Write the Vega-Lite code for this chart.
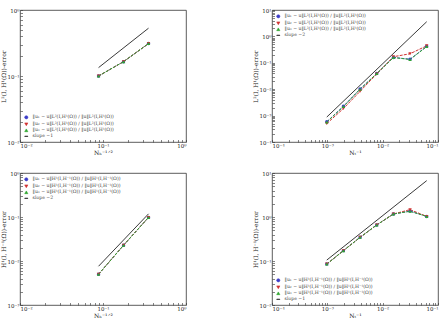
{
  "$schema": "https://vega.github.io/schema/vega-lite/v6.json",
  "padding": {"left": 0, "top": 7, "right": 0, "bottom": 0},
  "background": "white",
  "config": {
    "view": {"stroke": "#333", "strokeWidth": 0.8},
    "axis": {
      "labelFont": "DejaVu Serif", "labelFontSize": 5.5, "labelColor": "#222",
      "titleFont": "DejaVu Serif", "titleFontSize": 6, "titleFontWeight": "normal", "titleColor": "#222",
      "grid": false, "domain": false, "tickColor": "#333", "tickSize": -2.5, "tickWidth": 0.6,
      "labelPadding": 3.5, "titlePadding": 0.5
    },
    "axisY": {"minExtent": 13, "maxExtent": 13},
    "legend": {
      "labelFont": "DejaVu Serif", "labelFontSize": 4.6, "labelColor": "#444",
      "symbolSize": 10, "rowPadding": 0, "padding": 1, "offset": 3, "symbolStrokeWidth": 0.6,
      "labelLimit": 200, "titlePadding": 0
    }
  },
  "datasets": {
    "tl": [
      {"series": "‖u₁ − u‖L²(I,H¹(Ω)) / ‖u‖L²(I,H¹(Ω))", "k": "u1", "x": 0.0884, "y": 0.1},
      {"series": "‖u₁ − u‖L²(I,H¹(Ω)) / ‖u‖L²(I,H¹(Ω))", "k": "u1", "x": 0.1768, "y": 0.165},
      {"series": "‖u₁ − u‖L²(I,H¹(Ω)) / ‖u‖L²(I,H¹(Ω))", "k": "u1", "x": 0.3536, "y": 0.31},
      {"series": "‖u₂ − u‖L²(I,H¹(Ω)) / ‖u‖L²(I,H¹(Ω))", "k": "u2", "x": 0.0884, "y": 0.1},
      {"series": "‖u₂ − u‖L²(I,H¹(Ω)) / ‖u‖L²(I,H¹(Ω))", "k": "u2", "x": 0.1768, "y": 0.165},
      {"series": "‖u₂ − u‖L²(I,H¹(Ω)) / ‖u‖L²(I,H¹(Ω))", "k": "u2", "x": 0.3536, "y": 0.31},
      {"series": "‖u₃ − u‖L²(I,H¹(Ω)) / ‖u‖L²(I,H¹(Ω))", "k": "u3", "x": 0.0884, "y": 0.1},
      {"series": "‖u₃ − u‖L²(I,H¹(Ω)) / ‖u‖L²(I,H¹(Ω))", "k": "u3", "x": 0.1768, "y": 0.165},
      {"series": "‖u₃ − u‖L²(I,H¹(Ω)) / ‖u‖L²(I,H¹(Ω))", "k": "u3", "x": 0.3536, "y": 0.31},
      {"series": "slope −1", "k": "slope", "x": 0.0884, "y": 0.134},
      {"series": "slope −1", "k": "slope", "x": 0.3536, "y": 0.53}
    ],
    "tr": [
      {"series": "‖u₁ − u‖L²(I,H¹(Ω)) / ‖u‖L²(I,H¹(Ω))", "k": "u1", "x": 0.000977, "y": 0.00058},
      {"series": "‖u₁ − u‖L²(I,H¹(Ω)) / ‖u‖L²(I,H¹(Ω))", "k": "u1", "x": 0.001953, "y": 0.00225},
      {"series": "‖u₁ − u‖L²(I,H¹(Ω)) / ‖u‖L²(I,H¹(Ω))", "k": "u1", "x": 0.003906, "y": 0.0101},
      {"series": "‖u₁ − u‖L²(I,H¹(Ω)) / ‖u‖L²(I,H¹(Ω))", "k": "u1", "x": 0.007813, "y": 0.039},
      {"series": "‖u₁ − u‖L²(I,H¹(Ω)) / ‖u‖L²(I,H¹(Ω))", "k": "u1", "x": 0.015625, "y": 0.16},
      {"series": "‖u₁ − u‖L²(I,H¹(Ω)) / ‖u‖L²(I,H¹(Ω))", "k": "u1", "x": 0.03125, "y": 0.136},
      {"series": "‖u₁ − u‖L²(I,H¹(Ω)) / ‖u‖L²(I,H¹(Ω))", "k": "u1", "x": 0.0625, "y": 0.42},
      {"series": "‖u₂ − u‖L²(I,H¹(Ω)) / ‖u‖L²(I,H¹(Ω))", "k": "u2", "x": 0.000977, "y": 0.0005},
      {"series": "‖u₂ − u‖L²(I,H¹(Ω)) / ‖u‖L²(I,H¹(Ω))", "k": "u2", "x": 0.001953, "y": 0.00185},
      {"series": "‖u₂ − u‖L²(I,H¹(Ω)) / ‖u‖L²(I,H¹(Ω))", "k": "u2", "x": 0.003906, "y": 0.0083},
      {"series": "‖u₂ − u‖L²(I,H¹(Ω)) / ‖u‖L²(I,H¹(Ω))", "k": "u2", "x": 0.007813, "y": 0.038},
      {"series": "‖u₂ − u‖L²(I,H¹(Ω)) / ‖u‖L²(I,H¹(Ω))", "k": "u2", "x": 0.015625, "y": 0.17},
      {"series": "‖u₂ − u‖L²(I,H¹(Ω)) / ‖u‖L²(I,H¹(Ω))", "k": "u2", "x": 0.03125, "y": 0.22},
      {"series": "‖u₂ − u‖L²(I,H¹(Ω)) / ‖u‖L²(I,H¹(Ω))", "k": "u2", "x": 0.0625, "y": 0.44},
      {"series": "‖u₃ − u‖L²(I,H¹(Ω)) / ‖u‖L²(I,H¹(Ω))", "k": "u3", "x": 0.000977, "y": 0.00057},
      {"series": "‖u₃ − u‖L²(I,H¹(Ω)) / ‖u‖L²(I,H¹(Ω))", "k": "u3", "x": 0.001953, "y": 0.0022},
      {"series": "‖u₃ − u‖L²(I,H¹(Ω)) / ‖u‖L²(I,H¹(Ω))", "k": "u3", "x": 0.003906, "y": 0.01},
      {"series": "‖u₃ − u‖L²(I,H¹(Ω)) / ‖u‖L²(I,H¹(Ω))", "k": "u3", "x": 0.007813, "y": 0.039},
      {"series": "‖u₃ − u‖L²(I,H¹(Ω)) / ‖u‖L²(I,H¹(Ω))", "k": "u3", "x": 0.015625, "y": 0.158},
      {"series": "‖u₃ − u‖L²(I,H¹(Ω)) / ‖u‖L²(I,H¹(Ω))", "k": "u3", "x": 0.03125, "y": 0.134},
      {"series": "‖u₃ − u‖L²(I,H¹(Ω)) / ‖u‖L²(I,H¹(Ω))", "k": "u3", "x": 0.0625, "y": 0.41},
      {"series": "slope −2", "k": "slope", "x": 0.000977, "y": 0.00088},
      {"series": "slope −2", "k": "slope", "x": 0.0625, "y": 3.6}
    ],
    "bl": [
      {"series": "‖u₁ − u‖H¹(I,H⁻¹(Ω)) / ‖u‖H¹(I,H⁻¹(Ω))", "k": "u1", "x": 0.0884, "y": 0.005},
      {"series": "‖u₁ − u‖H¹(I,H⁻¹(Ω)) / ‖u‖H¹(I,H⁻¹(Ω))", "k": "u1", "x": 0.1768, "y": 0.0228},
      {"series": "‖u₁ − u‖H¹(I,H⁻¹(Ω)) / ‖u‖H¹(I,H⁻¹(Ω))", "k": "u1", "x": 0.3536, "y": 0.098},
      {"series": "‖u₂ − u‖H¹(I,H⁻¹(Ω)) / ‖u‖H¹(I,H⁻¹(Ω))", "k": "u2", "x": 0.0884, "y": 0.005},
      {"series": "‖u₂ − u‖H¹(I,H⁻¹(Ω)) / ‖u‖H¹(I,H⁻¹(Ω))", "k": "u2", "x": 0.1768, "y": 0.0228},
      {"series": "‖u₂ − u‖H¹(I,H⁻¹(Ω)) / ‖u‖H¹(I,H⁻¹(Ω))", "k": "u2", "x": 0.3536, "y": 0.098},
      {"series": "‖u₃ − u‖H¹(I,H⁻¹(Ω)) / ‖u‖H¹(I,H⁻¹(Ω))", "k": "u3", "x": 0.0884, "y": 0.005},
      {"series": "‖u₃ − u‖H¹(I,H⁻¹(Ω)) / ‖u‖H¹(I,H⁻¹(Ω))", "k": "u3", "x": 0.1768, "y": 0.0228},
      {"series": "‖u₃ − u‖H¹(I,H⁻¹(Ω)) / ‖u‖H¹(I,H⁻¹(Ω))", "k": "u3", "x": 0.3536, "y": 0.098},
      {"series": "slope −2", "k": "slope", "x": 0.0884, "y": 0.0076},
      {"series": "slope −2", "k": "slope", "x": 0.3536, "y": 0.118}
    ],
    "br": [
      {"series": "‖u₁ − u‖H¹(I,H⁻¹(Ω)) / ‖u‖H¹(I,H⁻¹(Ω))", "k": "u1", "x": 0.000977, "y": 0.085},
      {"series": "‖u₁ − u‖H¹(I,H⁻¹(Ω)) / ‖u‖H¹(I,H⁻¹(Ω))", "k": "u1", "x": 0.001953, "y": 0.172},
      {"series": "‖u₁ − u‖H¹(I,H⁻¹(Ω)) / ‖u‖H¹(I,H⁻¹(Ω))", "k": "u1", "x": 0.003906, "y": 0.345},
      {"series": "‖u₁ − u‖H¹(I,H⁻¹(Ω)) / ‖u‖H¹(I,H⁻¹(Ω))", "k": "u1", "x": 0.007813, "y": 0.66},
      {"series": "‖u₁ − u‖H¹(I,H⁻¹(Ω)) / ‖u‖H¹(I,H⁻¹(Ω))", "k": "u1", "x": 0.015625, "y": 1.17},
      {"series": "‖u₁ − u‖H¹(I,H⁻¹(Ω)) / ‖u‖H¹(I,H⁻¹(Ω))", "k": "u1", "x": 0.03125, "y": 1.36},
      {"series": "‖u₁ − u‖H¹(I,H⁻¹(Ω)) / ‖u‖H¹(I,H⁻¹(Ω))", "k": "u1", "x": 0.0625, "y": 1.03},
      {"series": "‖u₂ − u‖H¹(I,H⁻¹(Ω)) / ‖u‖H¹(I,H⁻¹(Ω))", "k": "u2", "x": 0.000977, "y": 0.085},
      {"series": "‖u₂ − u‖H¹(I,H⁻¹(Ω)) / ‖u‖H¹(I,H⁻¹(Ω))", "k": "u2", "x": 0.001953, "y": 0.172},
      {"series": "‖u₂ − u‖H¹(I,H⁻¹(Ω)) / ‖u‖H¹(I,H⁻¹(Ω))", "k": "u2", "x": 0.003906, "y": 0.345},
      {"series": "‖u₂ − u‖H¹(I,H⁻¹(Ω)) / ‖u‖H¹(I,H⁻¹(Ω))", "k": "u2", "x": 0.007813, "y": 0.66},
      {"series": "‖u₂ − u‖H¹(I,H⁻¹(Ω)) / ‖u‖H¹(I,H⁻¹(Ω))", "k": "u2", "x": 0.015625, "y": 1.17},
      {"series": "‖u₂ − u‖H¹(I,H⁻¹(Ω)) / ‖u‖H¹(I,H⁻¹(Ω))", "k": "u2", "x": 0.03125, "y": 1.47},
      {"series": "‖u₂ − u‖H¹(I,H⁻¹(Ω)) / ‖u‖H¹(I,H⁻¹(Ω))", "k": "u2", "x": 0.0625, "y": 1.03},
      {"series": "‖u₃ − u‖H¹(I,H⁻¹(Ω)) / ‖u‖H¹(I,H⁻¹(Ω))", "k": "u3", "x": 0.000977, "y": 0.085},
      {"series": "‖u₃ − u‖H¹(I,H⁻¹(Ω)) / ‖u‖H¹(I,H⁻¹(Ω))", "k": "u3", "x": 0.001953, "y": 0.172},
      {"series": "‖u₃ − u‖H¹(I,H⁻¹(Ω)) / ‖u‖H¹(I,H⁻¹(Ω))", "k": "u3", "x": 0.003906, "y": 0.345},
      {"series": "‖u₃ − u‖H¹(I,H⁻¹(Ω)) / ‖u‖H¹(I,H⁻¹(Ω))", "k": "u3", "x": 0.007813, "y": 0.66},
      {"series": "‖u₃ − u‖H¹(I,H⁻¹(Ω)) / ‖u‖H¹(I,H⁻¹(Ω))", "k": "u3", "x": 0.015625, "y": 1.17},
      {"series": "‖u₃ − u‖H¹(I,H⁻¹(Ω)) / ‖u‖H¹(I,H⁻¹(Ω))", "k": "u3", "x": 0.03125, "y": 1.35},
      {"series": "‖u₃ − u‖H¹(I,H⁻¹(Ω)) / ‖u‖H¹(I,H⁻¹(Ω))", "k": "u3", "x": 0.0625, "y": 1.03},
      {"series": "slope −1", "k": "slope", "x": 0.000977, "y": 0.105},
      {"series": "slope −1", "k": "slope", "x": 0.0625, "y": 6.7}
    ]
  },
  "spacing": 14,
  "resolve": {"scale": {"x": "independent", "y": "independent", "color": "independent", "shape": "independent"}, "legend": {"color": "independent", "shape": "independent"}},
  "vconcat": [
    {
      "spacing": 65,
      "resolve": {"scale": {"x": "independent", "y": "independent", "color": "independent", "shape": "independent"}, "legend": {"color": "independent", "shape": "independent"}},
      "hconcat": [
        {
          "width": 166, "height": 132,
          "data": {"name": "tl"},
          "encoding": {
            "x": {"field": "x", "type": "quantitative", "scale": {"type": "log", "domain": [0.01, 1]},
              "axis": {"title": "Nₕ⁻¹ᐟ²", "values": [0.01,0.02,0.03,0.04,0.05,0.06,0.07,0.08,0.09,0.1,0.2,0.3,0.4,0.5,0.6,0.7,0.8,0.9,1],
                "labelExpr": "abs(log(datum.value)/LN10 - round(log(datum.value)/LN10)) < 0.000001 ? '10' + replace(replace(replace(replace(replace(replace('' + round(log(datum.value)/LN10), '-', '⁻'), '0', '⁰'), '1', '¹'), '2', '²'), '3', '³'), '4', '⁴') : ''"}},
            "y": {"field": "y", "type": "quantitative", "scale": {"type": "log", "domain": [0.01, 1]},
              "axis": {"title": "L²(I, H¹(Ω))-error", "values": [0.01,0.02,0.03,0.04,0.05,0.06,0.07,0.08,0.09,0.1,0.2,0.3,0.4,0.5,0.6,0.7,0.8,0.9,1],
                "labelExpr": "abs(log(datum.value)/LN10 - round(log(datum.value)/LN10)) < 0.000001 ? '10' + replace(replace(replace(replace(replace(replace('' + round(log(datum.value)/LN10), '-', '⁻'), '0', '⁰'), '1', '¹'), '2', '²'), '3', '³'), '4', '⁴') : ''"}},
            "color": {"field": "series", "type": "nominal",
              "scale": {"domain": ["‖u₁ − u‖L²(I,H¹(Ω)) / ‖u‖L²(I,H¹(Ω))", "‖u₂ − u‖L²(I,H¹(Ω)) / ‖u‖L²(I,H¹(Ω))", "‖u₃ − u‖L²(I,H¹(Ω)) / ‖u‖L²(I,H¹(Ω))", "slope −1"], "range": ["#3c3cc8", "#d03232", "#2fa62f", "#222222"]},
              "legend": {"title": null, "orient": "bottom-left"}}
          },
          "layer": [
            {"transform": [{"filter": "datum.k == 'u1'"}], "mark": {"type": "line", "strokeDash": [3, 1.2], "strokeWidth": 1}},
            {"transform": [{"filter": "datum.k == 'u2'"}], "mark": {"type": "line", "strokeDash": [3, 1.2], "strokeWidth": 1}},
            {"transform": [{"filter": "datum.k == 'u3'"}], "mark": {"type": "line", "strokeDash": [3, 1.2], "strokeWidth": 1}},
            {"transform": [{"filter": "datum.k == 'slope'"}], "mark": {"type": "line", "strokeWidth": 0.9}},
            {"transform": [{"filter": "datum.k != 'slope'"}], "mark": {"type": "point", "filled": true, "size": 12, "opacity": 1},
              "encoding": {"shape": {"field": "series", "type": "nominal",
                "scale": {"domain": ["‖u₁ − u‖L²(I,H¹(Ω)) / ‖u‖L²(I,H¹(Ω))", "‖u₂ − u‖L²(I,H¹(Ω)) / ‖u‖L²(I,H¹(Ω))", "‖u₃ − u‖L²(I,H¹(Ω)) / ‖u‖L²(I,H¹(Ω))", "slope −1"], "range": ["circle", "triangle-down", "triangle-up", "M-1,-0.12L1,-0.12L1,0.12L-1,0.12Z"]},
                "legend": {"title": null, "orient": "bottom-left"}}}}
          ]
        },
        {
          "width": 166, "height": 132,
          "data": {"name": "tr"},
          "encoding": {
            "x": {"field": "x", "type": "quantitative", "scale": {"type": "log", "domain": [0.0001, 0.1]},
              "axis": {"title": "Nₜ⁻¹", "values": [0.0001,0.0002,0.0003,0.0004,0.0005,0.0006,0.0007,0.0008,0.0009,0.001,0.002,0.003,0.004,0.005,0.006,0.007,0.008,0.009,0.01,0.02,0.03,0.04,0.05,0.06,0.07,0.08,0.09,0.1],
                "labelExpr": "abs(log(datum.value)/LN10 - round(log(datum.value)/LN10)) < 0.000001 ? '10' + replace(replace(replace(replace(replace(replace('' + round(log(datum.value)/LN10), '-', '⁻'), '0', '⁰'), '1', '¹'), '2', '²'), '3', '³'), '4', '⁴') : ''"}},
            "y": {"field": "y", "type": "quantitative", "scale": {"type": "log", "domain": [0.0001, 10]},
              "axis": {"title": "L²(I, H¹(Ω))-error", "values": [0.0001,0.0002,0.0003,0.0004,0.0005,0.0006,0.0007,0.0008,0.0009,0.001,0.002,0.003,0.004,0.005,0.006,0.007,0.008,0.009,0.01,0.02,0.03,0.04,0.05,0.06,0.07,0.08,0.09,0.1,0.2,0.3,0.4,0.5,0.6,0.7,0.8,0.9,1,2,3,4,5,6,7,8,9,10],
                "labelExpr": "abs(log(datum.value)/LN10 - round(log(datum.value)/LN10)) < 0.000001 ? '10' + replace(replace(replace(replace(replace(replace('' + round(log(datum.value)/LN10), '-', '⁻'), '0', '⁰'), '1', '¹'), '2', '²'), '3', '³'), '4', '⁴') : ''"}},
            "color": {"field": "series", "type": "nominal",
              "scale": {"domain": ["‖u₁ − u‖L²(I,H¹(Ω)) / ‖u‖L²(I,H¹(Ω))", "‖u₂ − u‖L²(I,H¹(Ω)) / ‖u‖L²(I,H¹(Ω))", "‖u₃ − u‖L²(I,H¹(Ω)) / ‖u‖L²(I,H¹(Ω))", "slope −2"], "range": ["#3c3cc8", "#d03232", "#2fa62f", "#222222"]},
              "legend": {"title": null, "orient": "top-left"}}
          },
          "layer": [
            {"transform": [{"filter": "datum.k == 'u1'"}], "mark": {"type": "line", "strokeDash": [3, 1.2], "strokeWidth": 1}},
            {"transform": [{"filter": "datum.k == 'u2'"}], "mark": {"type": "line", "strokeDash": [3, 1.2], "strokeWidth": 1}},
            {"transform": [{"filter": "datum.k == 'u3'"}], "mark": {"type": "line", "strokeDash": [3, 1.2], "strokeWidth": 1}},
            {"transform": [{"filter": "datum.k == 'slope'"}], "mark": {"type": "line", "strokeWidth": 0.9}},
            {"transform": [{"filter": "datum.k != 'slope'"}], "mark": {"type": "point", "filled": true, "size": 12, "opacity": 1},
              "encoding": {"shape": {"field": "series", "type": "nominal",
                "scale": {"domain": ["‖u₁ − u‖L²(I,H¹(Ω)) / ‖u‖L²(I,H¹(Ω))", "‖u₂ − u‖L²(I,H¹(Ω)) / ‖u‖L²(I,H¹(Ω))", "‖u₃ − u‖L²(I,H¹(Ω)) / ‖u‖L²(I,H¹(Ω))", "slope −2"], "range": ["circle", "triangle-down", "triangle-up", "M-1,-0.12L1,-0.12L1,0.12L-1,0.12Z"]},
                "legend": {"title": null, "orient": "top-left"}}}}
          ]
        }
      ]
    },
    {
      "spacing": 65,
      "resolve": {"scale": {"x": "independent", "y": "independent", "color": "independent", "shape": "independent"}, "legend": {"color": "independent", "shape": "independent"}},
      "hconcat": [
        {
          "width": 166, "height": 132,
          "data": {"name": "bl"},
          "encoding": {
            "x": {"field": "x", "type": "quantitative", "scale": {"type": "log", "domain": [0.01, 1]},
              "axis": {"title": "Nₕ⁻¹ᐟ²", "values": [0.01,0.02,0.03,0.04,0.05,0.06,0.07,0.08,0.09,0.1,0.2,0.3,0.4,0.5,0.6,0.7,0.8,0.9,1],
                "labelExpr": "abs(log(datum.value)/LN10 - round(log(datum.value)/LN10)) < 0.000001 ? '10' + replace(replace(replace(replace(replace(replace('' + round(log(datum.value)/LN10), '-', '⁻'), '0', '⁰'), '1', '¹'), '2', '²'), '3', '³'), '4', '⁴') : ''"}},
            "y": {"field": "y", "type": "quantitative", "scale": {"type": "log", "domain": [0.001, 1]},
              "axis": {"title": "H¹(I, H⁻¹(Ω))-error", "values": [0.001,0.002,0.003,0.004,0.005,0.006,0.007,0.008,0.009,0.01,0.02,0.03,0.04,0.05,0.06,0.07,0.08,0.09,0.1,0.2,0.3,0.4,0.5,0.6,0.7,0.8,0.9,1],
                "labelExpr": "abs(log(datum.value)/LN10 - round(log(datum.value)/LN10)) < 0.000001 ? '10' + replace(replace(replace(replace(replace(replace('' + round(log(datum.value)/LN10), '-', '⁻'), '0', '⁰'), '1', '¹'), '2', '²'), '3', '³'), '4', '⁴') : ''"}},
            "color": {"field": "series", "type": "nominal",
              "scale": {"domain": ["‖u₁ − u‖H¹(I,H⁻¹(Ω)) / ‖u‖H¹(I,H⁻¹(Ω))", "‖u₂ − u‖H¹(I,H⁻¹(Ω)) / ‖u‖H¹(I,H⁻¹(Ω))", "‖u₃ − u‖H¹(I,H⁻¹(Ω)) / ‖u‖H¹(I,H⁻¹(Ω))", "slope −2"], "range": ["#3c3cc8", "#d03232", "#2fa62f", "#222222"]},
              "legend": {"title": null, "orient": "top-left"}}
          },
          "layer": [
            {"transform": [{"filter": "datum.k == 'u1'"}], "mark": {"type": "line", "strokeDash": [3, 1.2], "strokeWidth": 1}},
            {"transform": [{"filter": "datum.k == 'u2'"}], "mark": {"type": "line", "strokeDash": [3, 1.2], "strokeWidth": 1}},
            {"transform": [{"filter": "datum.k == 'u3'"}], "mark": {"type": "line", "strokeDash": [3, 1.2], "strokeWidth": 1}},
            {"transform": [{"filter": "datum.k == 'slope'"}], "mark": {"type": "line", "strokeWidth": 0.9}},
            {"transform": [{"filter": "datum.k != 'slope'"}], "mark": {"type": "point", "filled": true, "size": 12, "opacity": 1},
              "encoding": {"shape": {"field": "series", "type": "nominal",
                "scale": {"domain": ["‖u₁ − u‖H¹(I,H⁻¹(Ω)) / ‖u‖H¹(I,H⁻¹(Ω))", "‖u₂ − u‖H¹(I,H⁻¹(Ω)) / ‖u‖H¹(I,H⁻¹(Ω))", "‖u₃ − u‖H¹(I,H⁻¹(Ω)) / ‖u‖H¹(I,H⁻¹(Ω))", "slope −2"], "range": ["circle", "triangle-down", "triangle-up", "M-1,-0.12L1,-0.12L1,0.12L-1,0.12Z"]},
                "legend": {"title": null, "orient": "top-left"}}}}
          ]
        },
        {
          "width": 166, "height": 132,
          "data": {"name": "br"},
          "encoding": {
            "x": {"field": "x", "type": "quantitative", "scale": {"type": "log", "domain": [0.0001, 0.1]},
              "axis": {"title": "Nₜ⁻¹", "values": [0.0001,0.0002,0.0003,0.0004,0.0005,0.0006,0.0007,0.0008,0.0009,0.001,0.002,0.003,0.004,0.005,0.006,0.007,0.008,0.009,0.01,0.02,0.03,0.04,0.05,0.06,0.07,0.08,0.09,0.1],
                "labelExpr": "abs(log(datum.value)/LN10 - round(log(datum.value)/LN10)) < 0.000001 ? '10' + replace(replace(replace(replace(replace(replace('' + round(log(datum.value)/LN10), '-', '⁻'), '0', '⁰'), '1', '¹'), '2', '²'), '3', '³'), '4', '⁴') : ''"}},
            "y": {"field": "y", "type": "quantitative", "scale": {"type": "log", "domain": [0.01, 10]},
              "axis": {"title": "H¹(I, H⁻¹(Ω))-error", "values": [0.01,0.02,0.03,0.04,0.05,0.06,0.07,0.08,0.09,0.1,0.2,0.3,0.4,0.5,0.6,0.7,0.8,0.9,1,2,3,4,5,6,7,8,9,10],
                "labelExpr": "abs(log(datum.value)/LN10 - round(log(datum.value)/LN10)) < 0.000001 ? '10' + replace(replace(replace(replace(replace(replace('' + round(log(datum.value)/LN10), '-', '⁻'), '0', '⁰'), '1', '¹'), '2', '²'), '3', '³'), '4', '⁴') : ''"}},
            "color": {"field": "series", "type": "nominal",
              "scale": {"domain": ["‖u₁ − u‖H¹(I,H⁻¹(Ω)) / ‖u‖H¹(I,H⁻¹(Ω))", "‖u₂ − u‖H¹(I,H⁻¹(Ω)) / ‖u‖H¹(I,H⁻¹(Ω))", "‖u₃ − u‖H¹(I,H⁻¹(Ω)) / ‖u‖H¹(I,H⁻¹(Ω))", "slope −1"], "range": ["#3c3cc8", "#d03232", "#2fa62f", "#222222"]},
              "legend": {"title": null, "orient": "bottom-left"}}
          },
          "layer": [
            {"transform": [{"filter": "datum.k == 'u1'"}], "mark": {"type": "line", "strokeDash": [3, 1.2], "strokeWidth": 1}},
            {"transform": [{"filter": "datum.k == 'u2'"}], "mark": {"type": "line", "strokeDash": [3, 1.2], "strokeWidth": 1}},
            {"transform": [{"filter": "datum.k == 'u3'"}], "mark": {"type": "line", "strokeDash": [3, 1.2], "strokeWidth": 1}},
            {"transform": [{"filter": "datum.k == 'slope'"}], "mark": {"type": "line", "strokeWidth": 0.9}},
            {"transform": [{"filter": "datum.k != 'slope'"}], "mark": {"type": "point", "filled": true, "size": 12, "opacity": 1},
              "encoding": {"shape": {"field": "series", "type": "nominal",
                "scale": {"domain": ["‖u₁ − u‖H¹(I,H⁻¹(Ω)) / ‖u‖H¹(I,H⁻¹(Ω))", "‖u₂ − u‖H¹(I,H⁻¹(Ω)) / ‖u‖H¹(I,H⁻¹(Ω))", "‖u₃ − u‖H¹(I,H⁻¹(Ω)) / ‖u‖H¹(I,H⁻¹(Ω))", "slope −1"], "range": ["circle", "triangle-down", "triangle-up", "M-1,-0.12L1,-0.12L1,0.12L-1,0.12Z"]},
                "legend": {"title": null, "orient": "bottom-left"}}}}
          ]
        }
      ]
    }
  ]
}
